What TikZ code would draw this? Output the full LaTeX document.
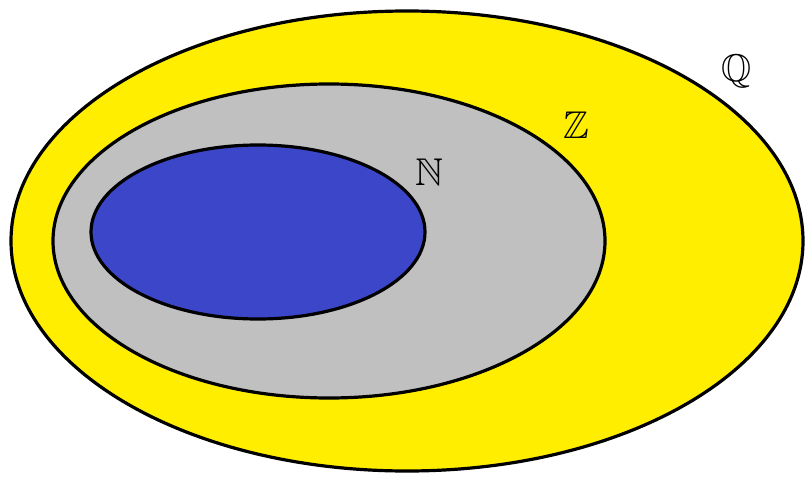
\documentclass[tikz,border=0pt]{standalone}
\usepackage{amssymb}
\usetikzlibrary{arrows}
\usetikzlibrary{shapes}

\definecolor{setQ}{RGB}{255,238,0}
\definecolor{setZ}{RGB}{192,192,192}
\definecolor{setN}{RGB}{60,70,200}

\tikzset{
	setline/.style={draw=black, line width=2.4pt},
	setlabel/.style={font=\fontsize{29}{34}\selectfont, inner sep=0pt}
}

\begin{document}
\begin{tikzpicture}[x=0.75pt, y=-0.75pt]
		% Keeping the page the size of the reference
		\useasboundingbox (0,0) rectangle (806,478);
		% The rationals, outermost
		\filldraw[setline, fill=setQ] (407,241) ellipse (396 and 230);
		% The integers inside them
		\filldraw[setline, fill=setZ] (329,241) ellipse (276 and 157);
		% The naturals, innermost
		\filldraw[setline, fill=setN] (258,232) ellipse (167 and 87);
		% Naming each set
		\node[setlabel] (Q) at (737,71) {$\mathbb{Q}$};
		\node[setlabel] (Z) at (576,125) {$\mathbb{Z}$};
		\node[setlabel] (N) at (429,172) {$\mathbb{N}$};
	\end{tikzpicture}
\end{document}
